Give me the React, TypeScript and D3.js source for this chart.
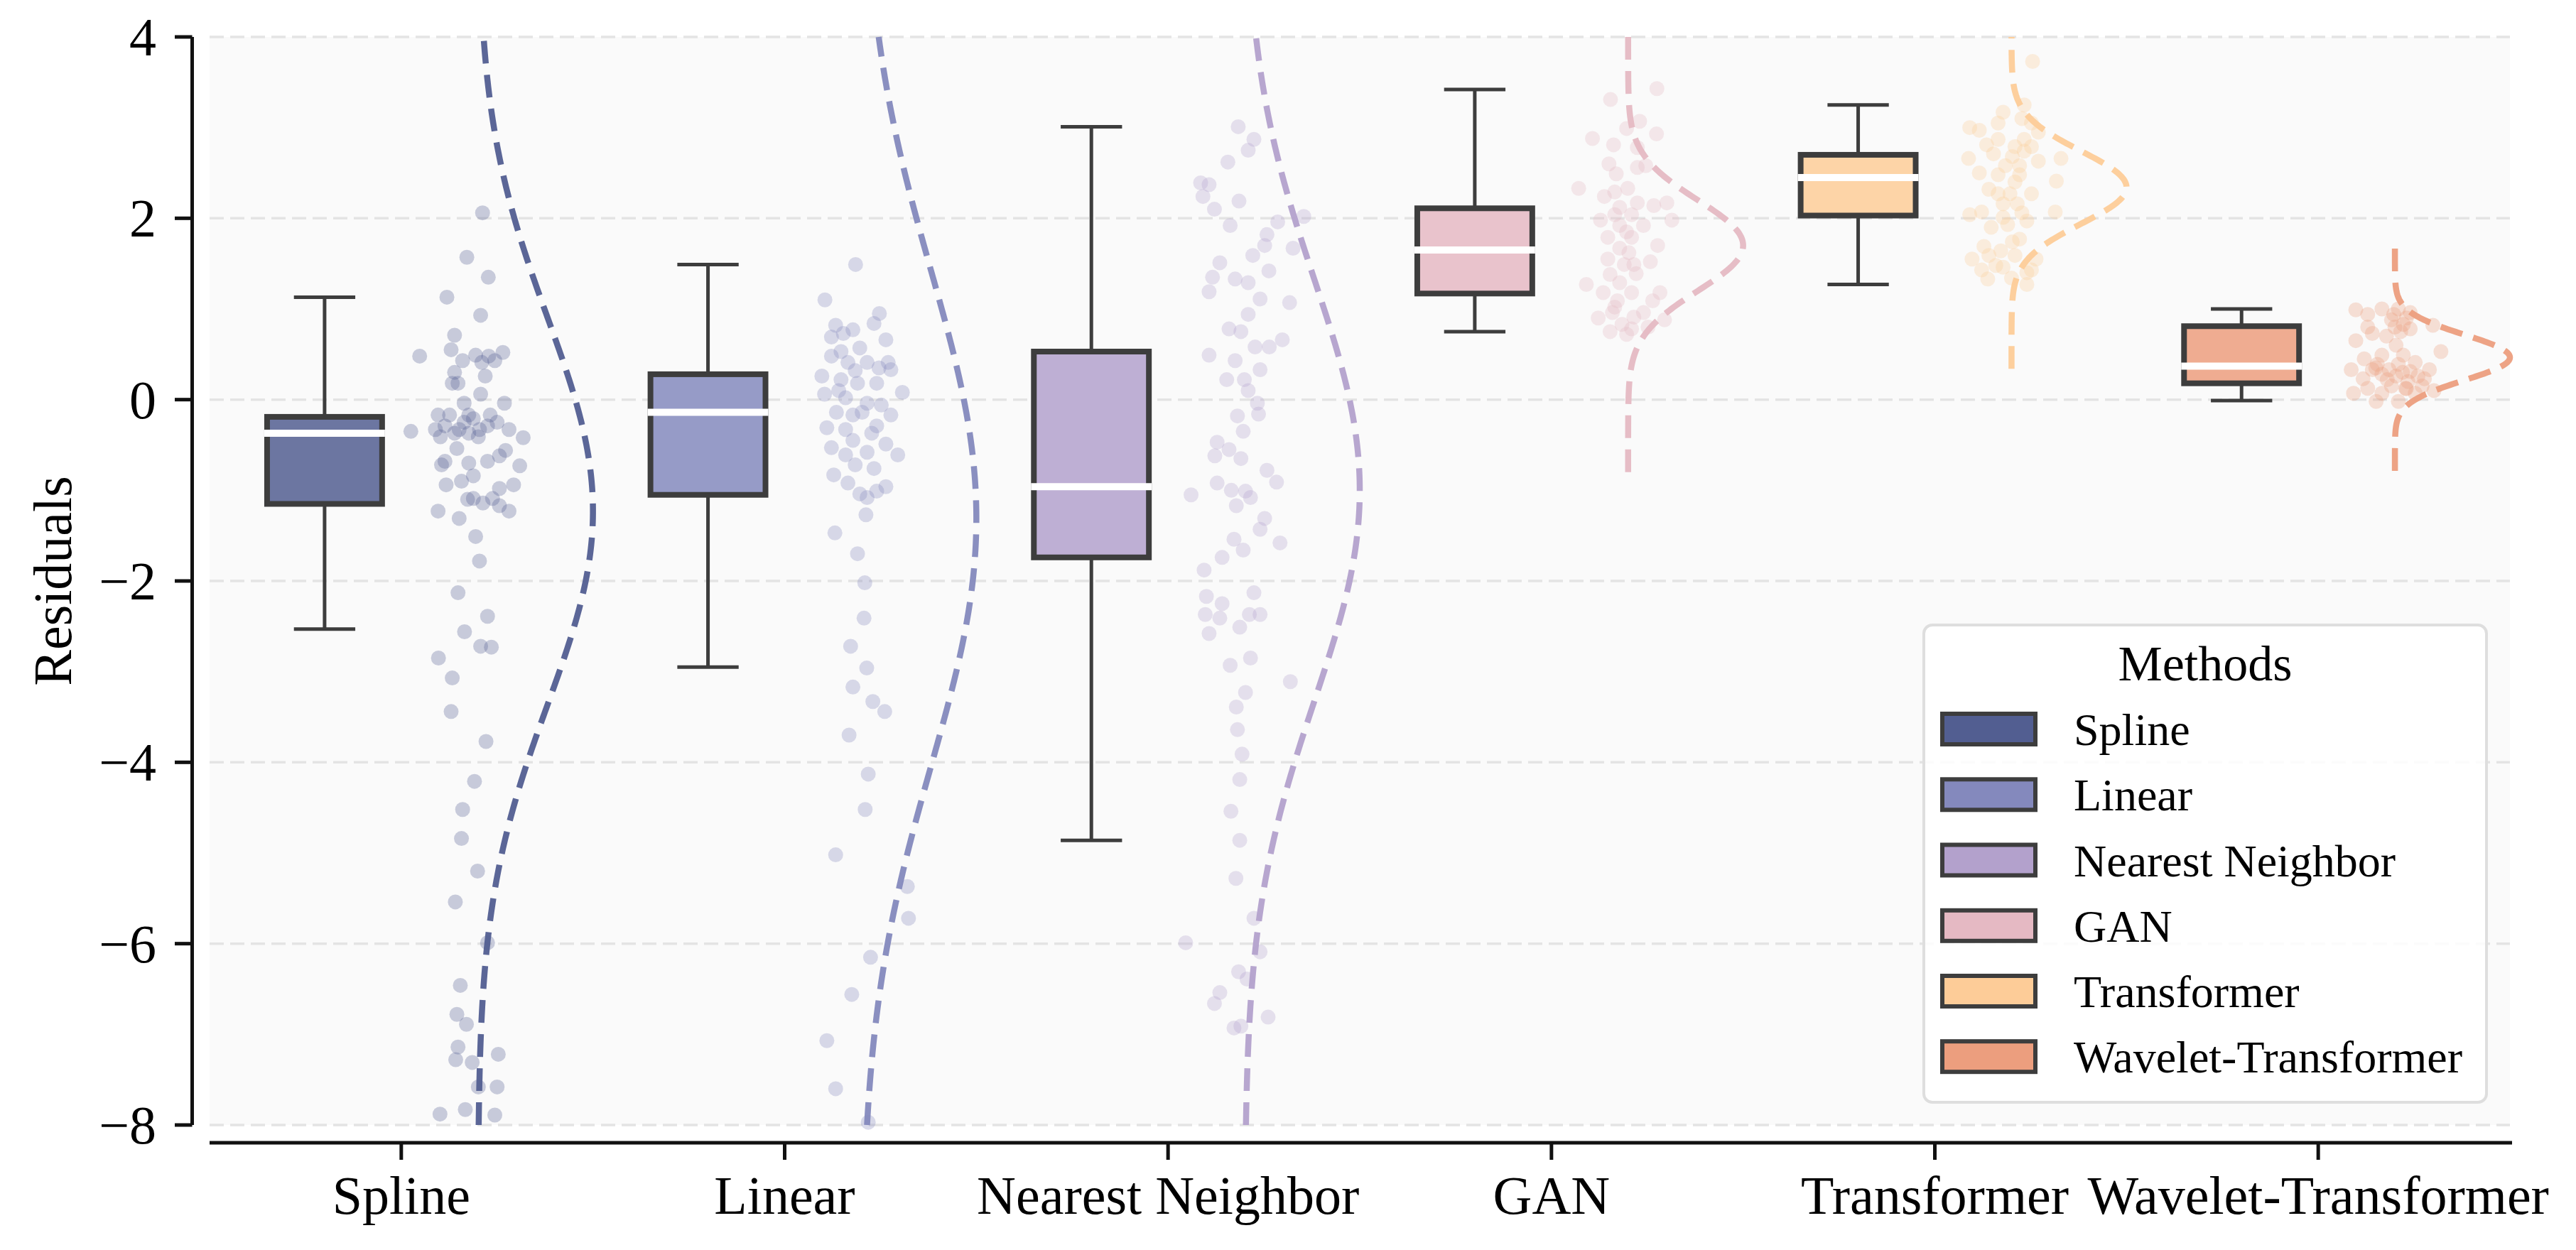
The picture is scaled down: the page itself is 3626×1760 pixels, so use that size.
import React from "react";
import * as d3 from "d3";

const categories = ["Spline", "Linear", "Nearest Neighbor", "GAN", "Transformer", "Wavelet-Transformer"];
const colors = ["#525e91", "#8489bd", "#b3a1cc", "#e5b9c3", "#fdcc98", "#ec9e7e"];
const yTicks = [-8, -6, -4, -2, 0, 2, 4];

// box statistics
const whiskerLow = [-2.53, -2.95, -4.86, 0.75, 1.27, -0.01];
const q1 = [-1.15, -1.05, -1.74, 1.17, 2.03, 0.18];
const median = [-0.37, -0.14, -0.96, 1.65, 2.45, 0.37];
const q3 = [-0.19, 0.28, 0.53, 2.11, 2.70, 0.81];
const whiskerHigh = [1.13, 1.49, 3.01, 3.42, 3.25, 1.0];

// normal curve parameters (dashed density outline)
const curveMean = [-1.23, -1.31, -1.0, 1.7, 2.34, 0.465];
const curveSd = [2.13, 2.73, 2.32, 0.5, 0.4, 0.25];

// scatter points: [jitter, residual]
const splinePoints = [[0.012,2.06],[-0.029,1.57],[0.027,1.35],[-0.081,1.13],[0.007,0.93],[-0.061,0.71],[-0.152,0.48],[-0.070,0.55],[0.065,0.52],[-0.040,0.43],[-0.006,0.49],[0.028,0.48],[0.044,0.43],[-0.061,0.30],[0.019,0.26],[-0.052,0.18],[0.007,0.06],[0.069,-0.04],[-0.175,-0.35],[-0.104,-0.17],[-0.086,-0.29],[-0.061,-0.37],[-0.036,-0.25],[-0.012,-0.21],[0.004,-0.33],[0.025,-0.29],[0.050,-0.25],[-0.098,-0.41],[-0.024,-0.37],[0.118,-0.42],[-0.055,-0.54],[0.081,-0.33],[-0.095,-0.72],[-0.024,-0.70],[0.025,-0.68],[0.056,-0.62],[0.109,-0.73],[-0.083,-0.94],[-0.043,-0.90],[-0.012,-0.84],[0.093,-0.94],[0.056,-0.98],[-0.027,-1.10],[0.013,-1.14],[0.038,-1.09],[0.056,-1.17],[0.081,-1.23],[-0.104,-1.23],[-0.049,-1.31],[-0.006,-1.51],[0.004,-1.78],[-0.052,-2.13],[0.025,-2.39],[-0.035,-2.56],[0.007,-2.72],[0.035,-2.73],[-0.103,-2.85],[-0.067,-3.07],[-0.070,-3.44],[0.021,-3.77],[-0.009,-4.21],[-0.040,-4.52],[-0.043,-4.84],[-0.001,-5.20],[-0.059,-5.54],[0.025,-5.99],[-0.046,-6.46],[-0.055,-6.78],[-0.030,-6.89],[-0.052,-7.14],[-0.058,-7.28],[-0.015,-7.31],[0.053,-7.22],[0.001,-7.58],[0.050,-7.58],[-0.099,-7.88],[-0.033,-7.83],[0.044,-7.89],[-0.111,-0.33],[-0.074,-0.17],[-0.024,-0.17],[0.001,-0.41],[0.032,-0.17],[-0.049,-0.33],[-0.086,-0.68],[-0.012,-1.09],[0.010,0.41],[-0.067,0.18],[0.072,-0.56],[-0.036,-0.04]];
const linearPoints = [[-0.015,1.49],[-0.095,1.10],[0.047,0.95],[-0.067,0.82],[-0.022,0.77],[0.033,0.84],[0.064,0.66],[-0.078,0.69],[-0.047,0.73],[-0.004,0.57],[-0.078,0.48],[-0.016,0.32],[0.015,0.41],[0.046,0.35],[0.077,0.33],[-0.103,0.26],[-0.053,0.22],[0.040,0.18],[0.107,0.08],[-0.096,0.06],[-0.041,0.02],[0.015,-0.04],[-0.065,-0.14],[-0.022,-0.17],[0.077,-0.17],[-0.090,-0.31],[-0.041,-0.33],[0.027,-0.37],[-0.078,-0.53],[0.064,-0.49],[0.095,-0.61],[0.015,-0.58],[-0.072,-0.83],[-0.016,-0.72],[-0.035,-0.92],[-0.004,-1.04],[0.040,-1.01],[0.064,-0.96],[0.012,-1.27],[-0.069,-1.47],[-0.010,-1.70],[0.009,-2.02],[0.007,-2.41],[-0.028,-2.72],[0.014,-2.96],[-0.022,-3.17],[0.030,-3.33],[0.061,-3.44],[-0.032,-3.70],[0.018,-4.13],[0.010,-4.52],[-0.067,-5.02],[0.120,-5.37],[0.123,-5.72],[0.024,-6.15],[-0.025,-6.56],[-0.090,-7.07],[-0.067,-7.60],[0.018,-7.97],[-0.035,0.41],[-0.010,0.18],[-0.059,0.10],[0.002,-0.14],[0.052,-0.06],[0.040,-0.29],[-0.022,-0.45],[-0.041,-0.61],[0.033,-0.76],[0.015,-1.08],[0.070,0.41],[-0.053,0.53]];
const nearestPoints = [[-0.017,3.01],[0.024,2.87],[0.009,2.75],[-0.044,2.62],[-0.115,2.39],[-0.093,2.37],[-0.109,2.24],[-0.015,2.19],[-0.079,2.10],[-0.038,1.92],[0.154,2.02],[0.086,1.96],[0.058,1.82],[0.052,1.70],[0.126,1.67],[0.021,1.59],[-0.065,1.51],[0.063,1.42],[-0.084,1.35],[-0.025,1.33],[0.009,1.29],[-0.093,1.19],[0.040,1.11],[0.117,1.07],[0.009,0.94],[-0.041,0.78],[-0.010,0.75],[0.098,0.66],[0.027,0.58],[0.064,0.58],[-0.093,0.49],[-0.025,0.43],[0.040,0.33],[-0.047,0.22],[-0.001,0.22],[0.009,0.10],[0.033,-0.04],[0.036,-0.16],[-0.019,-0.18],[-0.004,-0.35],[-0.072,-0.47],[-0.041,-0.55],[-0.078,-0.62],[-0.010,-0.65],[0.058,-0.78],[-0.072,-0.92],[-0.140,-1.05],[-0.035,-1.00],[0.002,-1.01],[0.015,-1.08],[0.083,-0.91],[-0.022,-1.17],[0.052,-1.31],[0.040,-1.43],[-0.028,-1.54],[0.092,-1.58],[-0.004,-1.66],[-0.059,-1.74],[-0.106,-1.88],[0.024,-2.13],[-0.100,-2.17],[-0.059,-2.25],[-0.103,-2.37],[0.012,-2.37],[0.040,-2.37],[-0.065,-2.41],[-0.093,-2.58],[-0.013,-2.51],[-0.038,-2.93],[0.015,-2.85],[0.119,-3.11],[0.002,-3.23],[-0.022,-3.39],[-0.019,-3.64],[-0.007,-3.91],[-0.013,-4.19],[-0.036,-4.54],[-0.013,-4.86],[-0.023,-5.28],[0.024,-5.72],[-0.154,-5.99],[0.040,-6.09],[-0.016,-6.31],[0.006,-6.39],[-0.065,-6.54],[-0.079,-6.66],[0.061,-6.81],[-0.028,-6.93],[-0.010,-6.91]];
const ganPoints = [[0.075,3.43],[-0.046,3.31],[0.030,3.07],[-0.004,2.99],[0.074,2.93],[-0.093,2.88],[-0.038,2.81],[0.024,2.78],[-0.050,2.60],[0.024,2.56],[0.046,2.58],[-0.031,2.49],[-0.129,2.33],[-0.001,2.33],[-0.062,2.24],[-0.035,2.29],[0.101,2.17],[0.024,2.17],[0.067,2.14],[-0.022,2.12],[-0.072,1.98],[0.114,1.98],[0.009,2.04],[0.040,1.92],[-0.022,1.92],[-0.053,1.79],[0.009,1.79],[0.077,1.70],[-0.022,1.67],[0.002,1.62],[-0.053,1.55],[0.058,1.52],[-0.010,1.49],[0.021,1.39],[-0.047,1.38],[-0.109,1.27],[-0.022,1.29],[-0.065,1.18],[0.009,1.18],[0.083,1.18],[0.064,1.09],[-0.035,1.02],[-0.078,0.90],[-0.041,0.96],[0.015,0.91],[0.040,0.96],[0.095,0.88],[-0.047,0.75],[0.009,0.78],[0.052,0.80],[-0.016,0.83],[-0.004,1.85],[-0.035,2.04],[0.015,1.49],[-0.028,1.09],[-0.004,0.72]];
const transformerPoints = [[0.055,3.73],[0.033,3.25],[-0.022,3.17],[-0.109,3.00],[-0.084,2.97],[-0.035,3.05],[0.027,3.10],[0.052,3.05],[0.070,2.95],[-0.065,2.81],[-0.035,2.87],[0.033,2.87],[0.052,2.79],[-0.112,2.66],[-0.047,2.71],[0.002,2.68],[0.033,2.74],[0.070,2.63],[0.129,2.66],[-0.084,2.50],[-0.035,2.48],[0.021,2.48],[0.117,2.41],[-0.059,2.32],[-0.004,2.27],[0.052,2.27],[-0.022,2.16],[-0.109,2.04],[-0.078,2.07],[0.027,2.06],[0.114,2.07],[0.040,1.97],[-0.053,1.90],[-0.010,1.93],[0.021,1.77],[-0.072,1.69],[-0.028,1.64],[-0.103,1.55],[0.009,1.59],[0.064,1.55],[-0.078,1.43],[-0.041,1.48],[0.040,1.40],[0.000,1.34],[-0.062,1.33],[0.040,1.27],[0.009,2.79],[0.021,2.58],[-0.016,2.58],[0.009,2.40],[-0.035,2.27],[0.015,2.16],[-0.022,2.01],[0.002,1.74],[-0.059,1.59],[-0.022,1.46],[0.052,1.43]];
const waveletPoints = [[-0.102,0.99],[-0.034,1.00],[0.009,1.00],[0.040,0.96],[-0.071,0.80],[-0.009,0.88],[0.022,0.83],[0.099,0.82],[0.040,0.78],[-0.102,0.65],[-0.059,0.73],[-0.022,0.70],[0.120,0.53],[0.003,0.60],[-0.034,0.49],[0.022,0.49],[-0.114,0.33],[-0.046,0.39],[0.053,0.41],[0.090,0.33],[-0.083,0.23],[-0.034,0.28],[0.003,0.26],[0.040,0.31],[0.077,0.23],[-0.071,0.125],[-0.009,0.15],[0.028,0.125],[0.071,0.15],[-0.049,-0.02],[0.009,-0.02],[0.102,0.10],[-0.015,0.33],[-0.059,0.33],[0.009,0.39],[0.034,0.20],[-0.034,0.07],[0.053,0.07],[-0.003,0.94],[-0.071,0.94],[-0.108,0.07],[0.015,0.75],[-0.05,0.35],[0.02,0.30],[-0.02,0.22],[0.03,0.12],[0.06,0.26],[-0.08,0.45],[0.0,0.80],[0.03,0.90]];
const pointSets = [splinePoints, linearPoints, nearestPoints, ganPoints, transformerPoints, waveletPoints];

const W = 3626;
const H = 1760;
const FONT = "'Liberation Serif', 'Times New Roman', serif";
const EDGE = "#3d3d3d";

export default function App() {
  const x = d3.scaleLinear().domain([-0.5, 5.5]).range([295, 3533]);
  const y = d3.scaleLinear().domain([-8, 4]).range([1584, 52]);
  const unit = x(1) - x(0);
  const boxHalf = 0.15;
  const capHalf = 0.08;
  const fmt = (v: number) => (v < 0 ? "\u2212" + Math.abs(v) : String(v));

  const curves = categories.map((_, i) => {
    const mu = curveMean[i];
    const sd = curveSd[i];
    const lo = Math.max(mu - 5 * sd, -8);
    const hi = Math.min(mu + 5 * sd, 4);
    const vals = d3.range(0, 241).map((k) => lo + ((hi - lo) * k) / 240);
    const base = x(i + 0.2);
    const line = d3
      .line<number>()
      .x((v) => base + 0.3 * unit * Math.exp(-((v - mu) * (v - mu)) / (2 * sd * sd)))
      .y((v) => y(v))
      .curve(d3.curveLinear);
    return line(vals) as string;
  });

  const legendRows = [1026.5, 1118.8, 1211, 1303.3, 1395.5, 1487.7];

  return (
    <svg
      width={W}
      height={H}
      viewBox={`0 0 ${W} ${H}`}
      style={{ position: "absolute", left: 0, top: 0, display: "block", background: "#ffffff" }}
      fontFamily={FONT}
    >
      <rect x={0} y={0} width={W} height={H} fill="#ffffff" />
      <rect x={x(-0.5)} y={y(4)} width={x(5.5) - x(-0.5)} height={y(-8) - y(4)} fill="#fafafa" />
      {yTicks.map((t) => (
        <line
          key={"g" + t}
          x1={x(-0.5)}
          x2={x(5.5)}
          y1={y(t)}
          y2={y(t)}
          stroke="#e4e4e4"
          strokeWidth={3.5}
          strokeDasharray="20 9"
        />
      ))}

      {/* boxes */}
      {categories.map((c, i) => {
        const cx = x(i - 0.2);
        const l = x(i - 0.2 - boxHalf);
        const r = x(i - 0.2 + boxHalf);
        return (
          <g key={"b" + c}>
            <line x1={cx} x2={cx} y1={y(q3[i])} y2={y(whiskerHigh[i])} stroke={EDGE} strokeWidth={5} />
            <line x1={cx} x2={cx} y1={y(q1[i])} y2={y(whiskerLow[i])} stroke={EDGE} strokeWidth={5} />
            <line x1={x(i - 0.2 - capHalf)} x2={x(i - 0.2 + capHalf)} y1={y(whiskerHigh[i])} y2={y(whiskerHigh[i])} stroke={EDGE} strokeWidth={5} />
            <line x1={x(i - 0.2 - capHalf)} x2={x(i - 0.2 + capHalf)} y1={y(whiskerLow[i])} y2={y(whiskerLow[i])} stroke={EDGE} strokeWidth={5} />
            <rect x={l} y={y(q3[i])} width={r - l} height={y(q1[i]) - y(q3[i])} fill="#fafafa" />
            <rect
              x={l}
              y={y(q3[i])}
              width={r - l}
              height={y(q1[i]) - y(q3[i])}
              fill={colors[i]}
              fillOpacity={0.85}
              stroke={EDGE}
              strokeWidth={8}
            />
            <line x1={l - 4} x2={r + 4} y1={y(median[i])} y2={y(median[i])} stroke="#ffffff" strokeWidth={10} />
          </g>
        );
      })}

      {/* jittered points */}
      {pointSets.map((pts, i) => (
        <g key={"p" + i}>
          {pts.map((p, k) => (
            <circle key={k} cx={x(i + 0.2 + p[0])} cy={y(p[1])} r={10.5} fill={colors[i]} fillOpacity={0.3} />
          ))}
        </g>
      ))}

      {/* dashed density curves */}
      {curves.map((d, i) => (
        <path
          key={"c" + i}
          d={d}
          fill="none"
          stroke={colors[i]}
          strokeOpacity={0.95}
          strokeWidth={8.5}
          strokeDasharray="32 16"
        />
      ))}

      {/* axes */}
      <line x1={270.5} x2={270.5} y1={y(4)} y2={y(-8)} stroke="#111" strokeWidth={5} />
      {yTicks.map((t) => (
        <g key={"yt" + t}>
          <line x1={246} x2={270.5} y1={y(t)} y2={y(t)} stroke="#111" strokeWidth={5} />
          <text x={220} y={y(t)} dy="0.34em" textAnchor="end" fontSize={76} fill="#000">
            {fmt(t)}
          </text>
        </g>
      ))}
      <line x1={x(-0.5)} x2={x(5.5) + 3} y1={1609} y2={1609} stroke="#111" strokeWidth={5} />
      {categories.map((c, i) => (
        <g key={"xt" + c}>
          <line x1={x(i)} x2={x(i)} y1={1609} y2={1633} stroke="#111" strokeWidth={5} />
          <text x={x(i)} y={1709} textAnchor="middle" fontSize={76} fill="#000">
            {c}
          </text>
        </g>
      ))}
      <text transform={`translate(100, ${(y(4) + y(-8)) / 2}) rotate(-90)`} textAnchor="middle" fontSize={76} fill="#000">
        Residuals
      </text>

      {/* legend */}
      <g>
        <rect x={2708} y={880} width={792} height={672} rx={12} fill="#ffffff" fillOpacity={0.85} stroke="#dedede" strokeWidth={4} />
        <text x={3104} y={958} textAnchor="middle" fontSize={70} fill="#000">
          Methods
        </text>
        {categories.map((c, i) => (
          <g key={"lg" + c}>
            <rect x={2734} y={legendRows[i] - 21.5} width={131} height={43} fill={colors[i]} stroke={EDGE} strokeWidth={6} />
            <text x={2919} y={legendRows[i] + 22.5} fontSize={64} fill="#000">
              {c}
            </text>
          </g>
        ))}
      </g>
    </svg>
  );
}
